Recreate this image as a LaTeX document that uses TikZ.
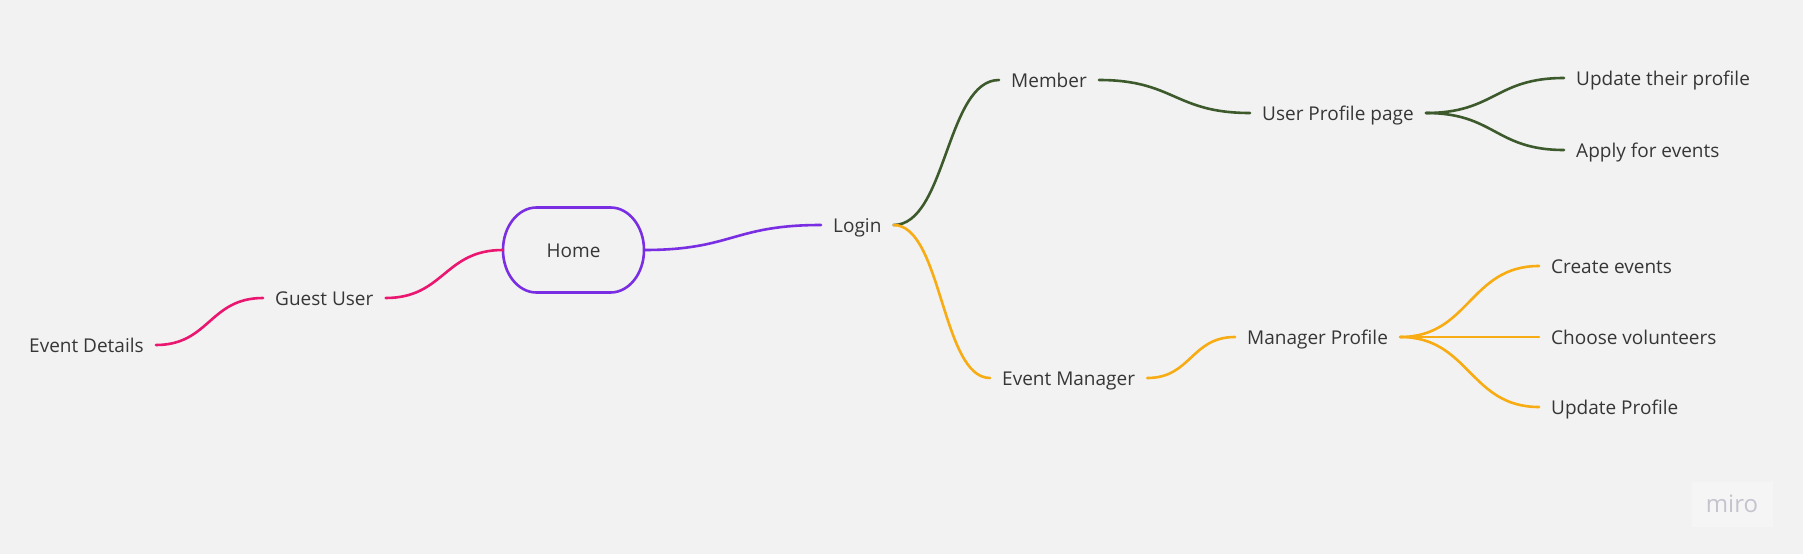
\documentclass[tikz,border=0pt]{standalone}
\usepackage{fontspec}
\setmainfont{Open Sans}
\usetikzlibrary{calc}
\definecolor{bg}{HTML}{F2F2F2}
\definecolor{txt}{HTML}{363636}
\definecolor{cpurple}{HTML}{7A2EE3}
\definecolor{cpink}{HTML}{EA1670}
\definecolor{cgreen}{HTML}{3D5A2C}
\definecolor{corange}{HTML}{F7AC13}
\definecolor{mirotxt}{HTML}{C3C4CE}
\definecolor{mirobg}{HTML}{F5F5F5}
\newcommand\mmlink[3]{\draw[link,#1] let \p1=(#2.east), \p2=(#3.west) in (\p1) .. controls ({(\x1+\x2)/2},\y1) and ({(\x1+\x2)/2},\y2) .. (\p2);}
\begin{document}
\begin{tikzpicture}[x=1pt,y=-1pt,
  lbl/.style={font=\fontsize{19}{21}\selectfont, text=txt, inner xsep=12pt, inner ysep=0pt, text height=18pt, text depth=3pt, anchor=west},
  homebox/.style={minimum width=141pt, minimum height=85pt, inner ysep=0pt, text height=15pt, text depth=0pt, font=\fontsize{19}{21}\selectfont, text=txt},
  boxline/.style={draw=cpurple, line width=2.6pt, line join=round},
  link/.style={line width=2.6pt, line cap=round}]
\fill[bg] (0,0) rectangle (1803,554);
\useasboundingbox (0,0) rectangle (1803,554);
% home pill
\draw[boxline] (536.5,207.5) -- (610.5,207.5)
  .. controls (629,207.5) and (644,226.5) .. (644,250)
  .. controls (644,273.5) and (629,292.5) .. (610.5,292.5)
  -- (536.5,292.5)
  .. controls (518,292.5) and (503,273.5) .. (503,250)
  .. controls (503,226.5) and (518,207.5) .. (536.5,207.5) -- cycle;
% nodes
\node[homebox] (home) at (573.5,250) {Home};
\node[lbl] (ed) at (17,345) {Event Details};
\node[lbl] (gu) at (263,298) {Guest User};
\node[lbl] (login) at (821,225) {Login};
\node[lbl] (member) at (999,80) {Member};
\node[lbl] (upp) at (1250,113) {User Profile page};
\node[lbl] (utp) at (1564,78) {Update their profile};
\node[lbl] (afe) at (1564,150) {Apply for events};
\node[lbl] (em) at (990,378) {Event Manager};
\node[lbl] (mp) at (1235,337) {Manager Profile};
\node[lbl] (ce) at (1539,266) {Create events};
\node[lbl] (cv) at (1539,337) {Choose volunteers};
\node[lbl] (up) at (1539,407) {Update Profile};
% connectors
\mmlink{cpink}{ed}{gu}
\mmlink{cpink}{gu}{home}
\mmlink{cpurple}{home}{login}
\mmlink{cgreen}{login}{member}
\mmlink{cgreen}{member}{upp}
\mmlink{cgreen}{upp}{utp}
\mmlink{cgreen}{upp}{afe}
\mmlink{corange}{login}{em}
\mmlink{corange}{em}{mp}
\mmlink{corange}{mp}{ce}
\mmlink{corange}{mp}{cv}
\mmlink{corange}{mp}{up}
% watermark
\node[fill=mirobg, minimum width=81pt, minimum height=45pt, inner sep=0pt, font=\fontsize{24}{26}\selectfont, text=mirotxt] (miro) at (1732,504) {miro};
\end{tikzpicture}
\end{document}
